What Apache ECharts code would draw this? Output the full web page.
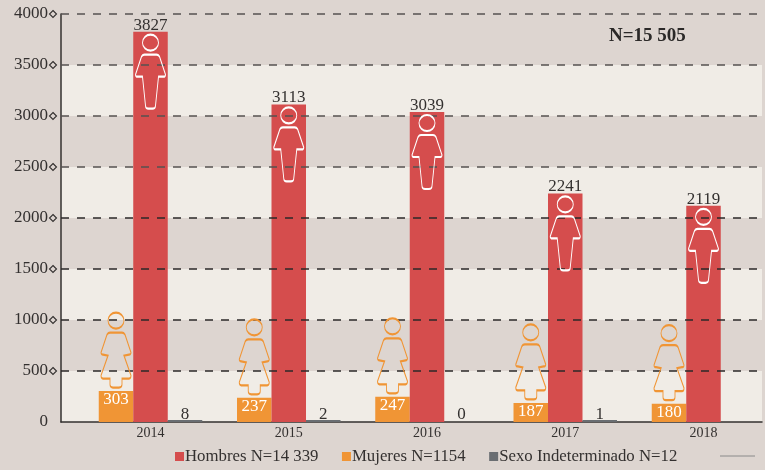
<!DOCTYPE html>
<html><head><meta charset="utf-8">
<style>html,body{margin:0;padding:0;background:#ddd5d0}#c{width:765px;height:470px}</style>
<script src="https://cdn.jsdelivr.net/npm/echarts@6/dist/echarts.min.js"></script>
</head><body><div id="c"></div>
<script>
const years = ['2014','2015','2016','2017','2018'];
const hombres = [3827,3113,3039,2241,2119];
const mujeres = [303,237,247,187,180];
const indeterminado = [8,2,0,1,null];
const yTicks = [0,500,1000,1500,2000,2500,3000,3500,4000];
const linesUpper = [2500,3000,3500,4000];
const linesLower = [500,1000,1500,2000];
const names = ['Hombres N=14 339','Mujeres N=1154','Sexo Indeterminado N=12'];
const total = 'N=15 505';

const FONT = '"Liberation Serif", serif';
const DARK = '#ddd5d0', LIGHT = '#f0ece6', RED = '#d54d4d', ORANGE = '#f09535', GREY = '#6a6e72', INK = '#33302f';
const MAN = 'path://M15,0A8,8 0 1 1 15,16A8,8 0 1 1 15,0Z M9,20L21,20Q23,20 24,22L30,40Q30,42 28,42L23,42L20,71Q20,74 17,74L13,74Q10,74 10,71L7,42L2,42Q0,42 0,40L6,22Q7,20 9,20Z';
const WOMAN = 'path://M15,0A8,8 0 1 1 15,16A8,8 0 1 1 15,0Z M9,20L21,20Q23,20 24,22L30,40Q30,42 28,42L23,43L30,63Q30,66 28,66L21,66L21,72Q21,75 18,75L12,75Q9,75 9,72L9,66L2,66Q0,66 0,63L7,43L2,42Q0,42 0,40L6,22Q7,20 9,20Z';

const dashed = (vals, color, z) => ({
  type:'scatter', xAxisIndex:0, yAxisIndex:0, data:[], silent:true, z,
  markLine:{ silent:true, symbol:'none', z, animation:false, label:{show:false},
    lineStyle:{type:[8,8], width:1.5, color, opacity:1},
    emphasis:{disabled:true},
    data: vals.map(v=>({yAxis:v})) }
});
const icon = (vals, path, h, dx, dy, color) => ({
  type:'scatter', xAxisIndex:1, yAxisIndex:1, z:10, silent:true, clip:false,
  symbol:path, symbolSize:[30,h], symbolOffset:[dx,dy],
  itemStyle:{color:'rgba(0,0,0,0)', borderColor:color, borderWidth:1.4, opacity:1},
  data: years.map((y,i)=>[y, vals[i]])
});

const chart = echarts.init(document.getElementById('c'), null, {renderer:'canvas'});
chart.setOption({
  animation:false, backgroundColor:DARK,
  grid:[
    {left:61, top:14, width:701, height:408},
    {left:150.5, top:14, width:553, height:408}
  ],
  xAxis:[
    {gridIndex:0, type:'value', min:0, max:1, axisLabel:{show:false}, axisTick:{show:false}, splitLine:{show:false},
      axisLine:{show:true, onZero:false, lineStyle:{color:INK, width:1.5}}},
    {gridIndex:1, type:'category', data:years, boundaryGap:false, axisLine:{show:false}, axisTick:{show:false},
      axisLabel:{color:INK, fontFamily:FONT, fontSize:14, margin:2, lineHeight:15, padding:[2,0,0,0], interval:0}}
  ],
  yAxis:[
    {gridIndex:0, type:'value', min:0, max:4000, interval:500,
      axisLine:{show:true, lineStyle:{color:INK, width:1.5}},
      axisTick:{show:false},
      axisLabel:{color:INK, fontFamily:FONT, fontSize:17, margin:13, formatter:v=>String(v)},
      splitLine:{show:false},
      splitArea:{show:true, areaStyle:{color:[LIGHT,DARK], opacity:1}}},
    {gridIndex:1, type:'value', min:0, max:4000, interval:500, show:false, splitLine:{show:false}}
  ],
  legend:{
    left:175, top:448, itemWidth:9, itemHeight:9, itemGap:23.5, icon:'rect', padding:0,
    data:names, selectedMode:false,
    textStyle:{color:INK, fontFamily:FONT, fontSize:16.8, padding:[0,0,0,-4]}
  },
  title:{text:total, left:609, top:27, padding:0,
    textStyle:{color:'#2b2928', fontFamily:FONT, fontSize:19, fontWeight:'bold', lineHeight:18}},
  graphic:[{type:'line', silent:true, shape:{x1:720,y1:456,x2:755,y2:456}, style:{stroke:'#8a8a8a', lineWidth:1}}],
  series:[
    dashed(linesUpper,'#555150',4),
    dashed(linesLower,'#2b2929',4),
    {type:'scatter', xAxisIndex:0, yAxisIndex:0, z:5, silent:true, clip:false,
      symbol:'diamond', symbolSize:[7,7], symbolOffset:[-8,0],
      itemStyle:{color:DARK, borderColor:INK, borderWidth:1.1, opacity:1},
      data:yTicks.filter(v=>v>0).map(v=>[0,v])},
    {name:names[1], type:'bar', xAxisIndex:1, yAxisIndex:1, data:mujeres, barWidth:34.5, barGap:0, z:2, clip:false,
      itemStyle:{color:ORANGE},
      label:{show:true, position:'insideTop', distance:0, color:'#fff', fontFamily:FONT, fontSize:17}},
    {name:names[0], type:'bar', xAxisIndex:1, yAxisIndex:1, data:hombres, barWidth:34.5, barGap:0, z:2, clip:false,
      itemStyle:{color:RED},
      label:{show:true, position:'top', distance:-2, color:INK, fontFamily:FONT, fontSize:17}},
    {name:names[2], type:'bar', xAxisIndex:1, yAxisIndex:1, barWidth:34.5, barGap:0, z:2, clip:false, barMinHeight:2,
      data:indeterminado.map(v=>v===0?{value:v,itemStyle:{color:'rgba(0,0,0,0)'}}:v),
      itemStyle:{color:GREY},
      label:{show:true, position:'top', distance:-3, color:INK, fontFamily:FONT, fontSize:17}},
    icon(hombres, MAN, 74, 0, 40, '#fff'),
    icon(mujeres, WOMAN, 75, -34.5, -41, ORANGE)
  ]
});
</script></body></html>
